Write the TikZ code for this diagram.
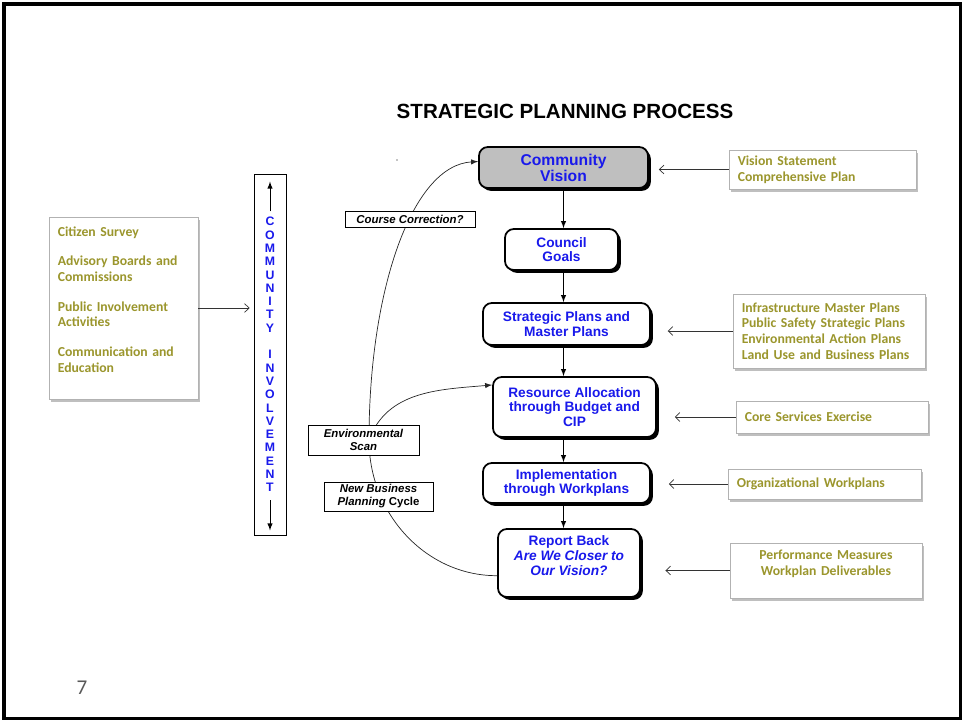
\documentclass[tikz,border=0pt]{standalone}
\usepackage{fontspec}
\setmainfont{Liberation Sans}
\newfontfamily\calib{Carlito}
\usetikzlibrary{shadows,arrows.meta}

\definecolor{olivetxt}{RGB}{155,150,45}
\definecolor{steptxt}{RGB}{25,25,235}

\tikzset{
  mainbox/.style={draw, line width=1pt, rounded corners=5pt, fill=white,
    text=steptxt, font=\fontsize{7.8}{8.2}\selectfont\bfseries, align=center,
    drop shadow={shadow xshift=1.6pt, shadow yshift=-1.6pt, fill=black, opacity=1}},
  tag/.style={draw, thin, fill=white, inner sep=1pt, align=center,
    font=\fontsize{6.5}{7.4}\selectfont\bfseries\itshape},
  inbox/.style={draw=black!30, fill=white, text=olivetxt, align=left, inner xsep=5pt,
    font=\calib\fontsize{7.8}{8.9}\selectfont\bfseries,
    drop shadow={shadow xshift=1.2pt, shadow yshift=-1.5pt, fill=black!50, opacity=0.5}},
  feed/.style={-{Straight Barb[length=2.6pt,width=5pt]}, black!80},
}

\begin{document}
\begin{tikzpicture}[x=0.02cm,y=-0.02cm]

      \useasboundingbox (0,0) rectangle (963,721);
      \draw[line width=2pt] (4,4) rectangle (960.5,718.5);

      % title
      \node[font=\fontsize{11.7}{14}\selectfont\bfseries] (title) at (565,111) {STRATEGIC PLANNING PROCESS};
      \fill (397,160) circle (0.4pt);

      % main column
      \node[mainbox, fill=black!25, font=\fontsize{8.9}{9.2}\selectfont\bfseries,
        minimum width=3.38cm, minimum height=0.82cm] (cv) at (563.5,167.5) {Community\\Vision};
      \node[mainbox, minimum width=2.26cm, minimum height=0.82cm] (cg) at (561.5,249.5) {Council\\Goals};
      \node[mainbox, minimum width=3.34cm, minimum height=0.84cm] (sp) at (566.5,324) {Strategic Plans and\\Master Plans};
      \node[mainbox, minimum width=3.26cm, minimum height=1.2cm] (ra) at (574.5,407) {Resource Allocation\\through Budget and\\CIP};
      \node[mainbox, minimum width=3.34cm, minimum height=0.8cm] (im) at (566.5,483) {Implementation\\through Workplans};
      \node[mainbox, font=\fontsize{7.8}{8.5}\selectfont\bfseries, minimum width=2.84cm, minimum height=1.36cm]
        (rb) at (569,563) {Report Back\\\textit{Are We Closer to}\\\textit{Our Vision?}\\\mbox{}};

      \foreach \a/\b in {cv/cg,cg/sp,sp/ra,ra/im,im/rb}
        \draw[-latex] (\a.south -| cv.south) -- (\b.north -| cv.south);

      % feedback loop
      \coordinate (arcl) at (369,440);
      \draw[-latex, black!85] (rb.190) .. controls (427,576) and (369,515) .. (arcl)
        .. controls (369,290) and (412,165) .. (cv.176);
      \draw[-latex, black!85] (arcl) to[out=70,in=185] (ra.165);

      \node[tag, minimum width=2.6cm, minimum height=0.32cm] (cc) at (410,219) {Course Correction?};
      \node[tag, minimum width=2.22cm, minimum height=0.6cm] (es) at (363.5,440) {Environmental\\Scan};
      \node[tag, minimum width=2.18cm, minimum height=0.58cm] (nb) at (378.5,496.5) {New Business\\Planning \textup{Cycle}};

      % inputs on the right
      \node[inbox, text width=3.39cm, minimum height=0.78cm] (vs) at (822.5,169.5) {Vision Statement\\Comprehensive Plan};
      \node[inbox, text width=3.49cm, minimum height=1.48cm] (ip) at (829,331)
        {Infrastructure Master Plans\\Public Safety Strategic Plans\\Environmental Action Plans\\Land Use and Business Plans};
      \node[inbox, text width=3.49cm, minimum height=0.64cm] (cs) at (832,417) {Core Services Exercise};
      \node[inbox, text width=3.51cm, minimum height=0.6cm] (ow) at (824.5,484) {Organizational Workplans};
      \node[inbox, text width=3.49cm, minimum height=1.1cm, align=center] (pm) at (826,570.5)
        {Performance Measures\\Workplan Deliverables\\\mbox{}};

      \foreach \a/\b/\s in {vs/cv/5.7pt,ip/sp/9.6pt,cs/ra/10.2pt,ow/im/10.2pt,pm/rb/14pt}
        \draw[feed, shorten >=\s] (\a.west) -- (\a.west -| \b.east);

      % community involvement
      \node[draw, thin, minimum width=0.64cm, minimum height=7.22cm, inner sep=0pt, align=center,
        text=steptxt, font=\fontsize{7}{7.57}\selectfont\bfseries] (ci) at (270,354.5)
        {C\\O\\M\\M\\U\\N\\I\\T\\Y\\[7.57pt]I\\N\\V\\O\\L\\V\\E\\M\\E\\N\\T};
      \draw[-latex] ([yshift=-21.5pt]ci.north) -- ([yshift=-4.5pt]ci.north);
      \draw[-latex] ([yshift=20pt]ci.south) -- ([yshift=2.8pt]ci.south);

      \node[inbox, text width=2.63cm, minimum height=3.64cm] (cz) at (123.5,308)
        {Citizen Survey\\[8pt]Advisory Boards and\\Commissions\\[8pt]Public Involvement\\Activities\\[8pt]Communication and\\Education\\[1pt]\mbox{}};
      \draw[feed, shorten >=2.3pt] (cz.east) -- (cz.east -| ci.west);

      \node[font=\calib\fontsize{12}{14}\selectfont, text=black!65] (pg) at (82,688) {7};

    \end{tikzpicture}
\end{document}
